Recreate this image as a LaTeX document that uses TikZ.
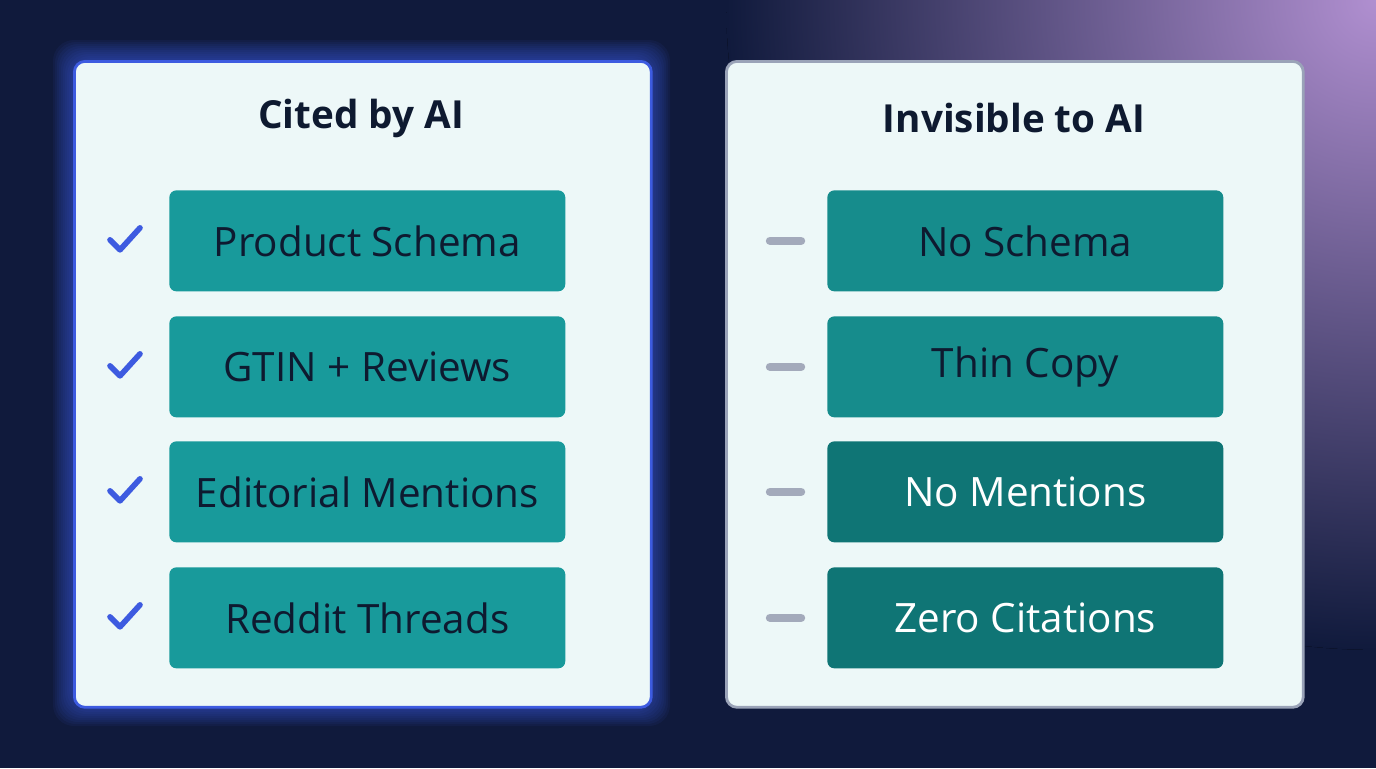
\documentclass[tikz,border=0pt]{standalone}
\usepackage{fontspec}
\setmainfont{Open Sans}
\usetikzlibrary{positioning}
\definecolor{bgnavy}{HTML}{101A3C}
\definecolor{glowpurple}{HTML}{B08FD0}
\definecolor{glowblue}{HTML}{3A4E9A}
\definecolor{panelfill}{HTML}{EDF8F8}
\definecolor{panelblue}{HTML}{3D5BE0}
\definecolor{panelgray}{HTML}{9AA3B8}
\definecolor{titleink}{HTML}{0E1A30}
\definecolor{tealA}{HTML}{189A9B}
\definecolor{tealB}{HTML}{168C8C}
\definecolor{tealC}{HTML}{0F7575}
\definecolor{dashgray}{HTML}{A3AABB}
\tikzset{
  panel/.style={draw, line width=1.6pt, fill=panelfill, rounded corners=6pt,
    minimum width=11.54cm, minimum height=12.92cm, anchor=north west},
  title/.style={font=\fontsize{22}{26}\selectfont\bfseries, text=titleink},
  item/.style={rounded corners=4pt, minimum width=7.92cm, minimum height=2.02cm,
    font=\fontsize{23}{27}\selectfont, anchor=north west},
  tick/.style={panelblue, line width=3.2pt, line cap=round, line join=round},
  minus/.style={dashgray, line width=4.8pt, line cap=round}
}
\begin{document}
\begin{tikzpicture}[x=0.02cm, y=-0.02cm]
  % background
  \useasboundingbox (0,0) rectangle (1376,768);
  \clip (0,0) rectangle (1376,768);
  \fill[bgnavy] (0,0) rectangle (1376,768);
  \fill[inner color=glowpurple, outer color=bgnavy] (1376,0) circle (13cm);

  % glow round the left panel
  \foreach \g in {1,...,10} {
    \fill[panelblue, opacity=0.07, rounded corners=12pt]
      (73-2*\g,60-2*\g) rectangle (650+2*\g,706+2*\g);
  }

  % panels
  \node[panel, draw=panelblue] (cited) at (73,60) {};
  \node[panel, draw=panelgray] (invis) at (725,60) {};
  \node[title] (citedtitle) at (361,118) {Cited by AI};
  \node[title] (invistitle) at (1014,118) {Invisible to AI};

  % left items
  \foreach \n/\y/\txt in {1/190/Product Schema, 2/316/GTIN + Reviews,
      3/441/Editorial Mentions, 4/567/Reddit Threads} {
    \node[item, fill=tealA, text=titleink] (cit\n) at (169,\y) {\txt};
    \draw[tick] ([xshift=-1.18cm, yshift=0.02cm]cit\n.west) -- ++(10,10) -- ++(20,-22);
  }

  % right items
  \foreach \n/\y/\txt/\fc/\tc in {1/190/No Schema/tealB/titleink, 2/316/Thin Copy/tealB/titleink,
      3/441/No Mentions/tealC/white, 4/567/Zero Citations/tealC/white} {
    \node[item, fill=\fc, text=\tc] (inv\n) at (827,\y) {\txt};
    \draw[minus] ([xshift=-1.14cm]inv\n.west) -- ++(31,0);
  }
\end{tikzpicture}
\end{document}
